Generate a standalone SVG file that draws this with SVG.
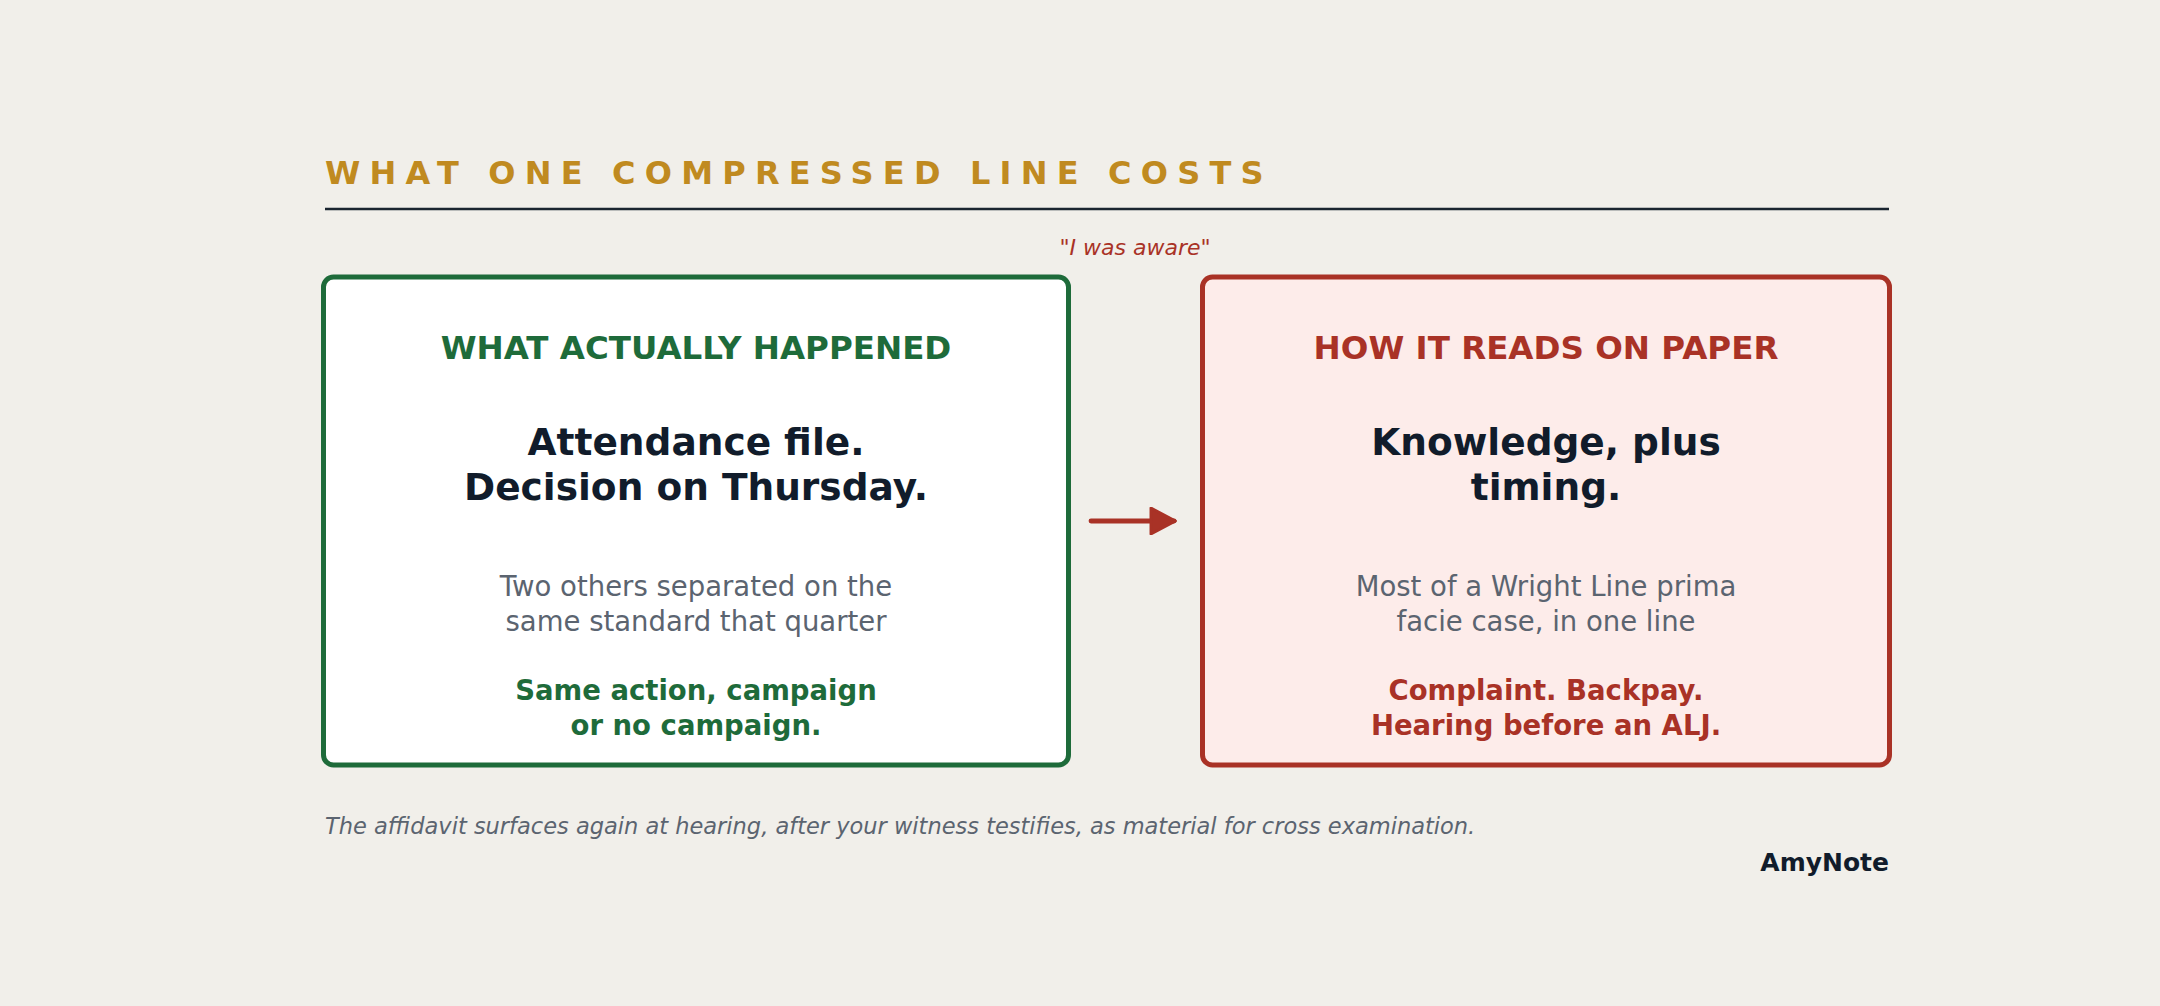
<svg xmlns="http://www.w3.org/2000/svg" width="2160" height="1006" viewBox="0 0 2160 1006">
<style>
text{font-family:"DejaVu Sans","Liberation Sans",sans-serif}
.title{font-size:32px;font-weight:bold;fill:#c08a20;letter-spacing:9.2px}
.head{font-size:32.5px;font-weight:bold;text-anchor:middle}
.big{font-size:37.5px;font-weight:bold;fill:#111c2b;text-anchor:middle}
.sub{font-size:27.5px;fill:#5b6470;text-anchor:middle}
.out{font-size:27.5px;font-weight:bold;text-anchor:middle}
.green{fill:#1e6b3a}
.red{fill:#a93226}
</style>
<defs>
<marker id="ah" viewBox="0 0 10 10" refX="9" refY="5" markerWidth="6" markerHeight="6" markerUnits="strokeWidth" orient="auto">
<path d="M1,0.5 L9.5,5 L1,9.5 Z" fill="#a93226" stroke="#a93226" stroke-width="1" stroke-linejoin="round"/>
</marker>
</defs>
<rect width="2160" height="1006" fill="#f1efea"/>
<text class="title" x="325" y="184">WHAT ONE COMPRESSED LINE COSTS</text>
<line x1="325" y1="209" x2="1889" y2="209" stroke="#1a2530" stroke-width="2.5"/>
<text x="1135" y="255" font-size="22" font-style="italic" fill="#a93226" text-anchor="middle">"I was aware"</text>
<g id="node-actual">
<rect x="323.5" y="277" width="745" height="488" rx="10" fill="#ffffff" stroke="#1e6b3a" stroke-width="5"/>
<text class="head green" x="696" y="359">WHAT ACTUALLY HAPPENED</text>
<text class="big" x="696" y="455">Attendance file.</text>
<text class="big" x="696" y="500">Decision on Thursday.</text>
<text class="sub" x="696" y="596">Two others separated on the</text>
<text class="sub" x="696" y="631">same standard that quarter</text>
<text class="out green" x="696" y="700">Same action, campaign</text>
<text class="out green" x="696" y="735">or no campaign.</text>
</g>
<g id="node-paper">
<rect x="1202.5" y="277" width="687" height="488" rx="10" fill="#fdecea" stroke="#a93226" stroke-width="5"/>
<text class="head red" x="1546" y="359">HOW IT READS ON PAPER</text>
<text class="big" x="1546" y="455">Knowledge, plus</text>
<text class="big" x="1546" y="500">timing.</text>
<text class="sub" x="1546" y="596">Most of a Wright Line prima</text>
<text class="sub" x="1546" y="631">facie case, in one line</text>
<text class="out red" x="1546" y="700">Complaint. Backpay.</text>
<text class="out red" x="1546" y="735">Hearing before an ALJ.</text>
</g>
<g id="connectors">
<line x1="1091" y1="521" x2="1174" y2="521" stroke="#a93226" stroke-width="4.8" stroke-linecap="round" marker-end="url(#ah)"/>
</g>
<text x="325" y="834" font-size="22.5" font-style="italic" fill="#5b6470">The affidavit surfaces again at hearing, after your witness testifies, as material for cross examination.</text>
<text x="1889" y="871" font-size="25" font-weight="bold" fill="#111c2b" text-anchor="end">AmyNote</text>
</svg>
